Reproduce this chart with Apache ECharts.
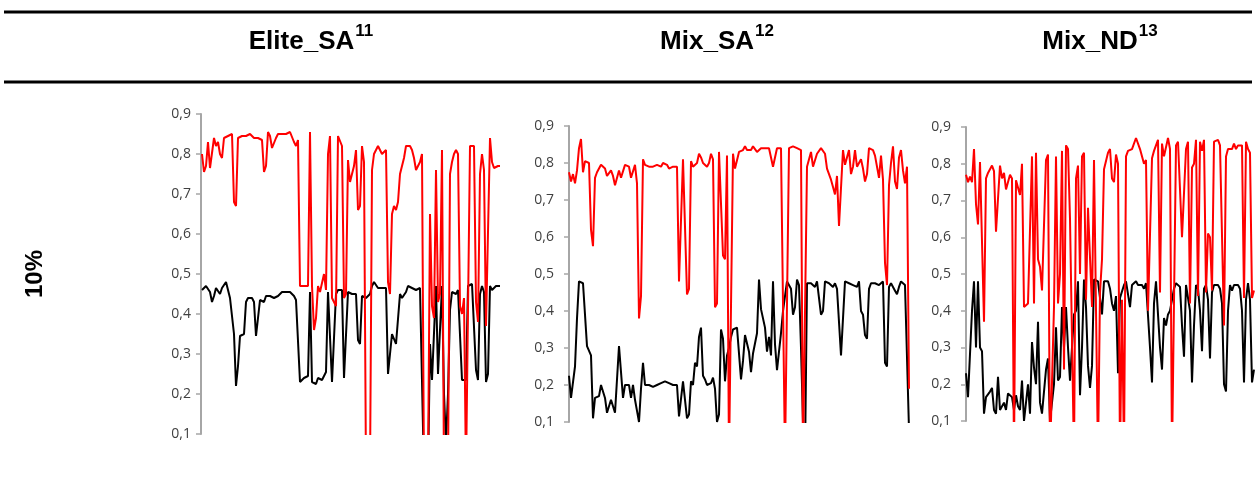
<!DOCTYPE html>
<html>
<head>
<meta charset="utf-8">
<script src="https://cdn.jsdelivr.net/npm/echarts@6/dist/echarts.min.js"></script>
<style>
html,body{margin:0;padding:0;background:#fff;}
#c{width:1255px;height:477px;}
</style>
</head>
<body>
<div id="c"></div>
<script>
// ---- data ----
const panelTitles = ['Elite_SA', 'Mix_SA', 'Mix_ND'];
const panelSup = ['11', '12', '13'];
const rowLabel = '10%';
const yTicks = [0.1, 0.9, 0.1]; // min, max, interval

const eliteRed = [0.80,0.755,0.77,0.83,0.765,0.76,0.84,0.82,0.83,0.80,
0.79,0.84,0.84,0.845,0.85,0.85,0.68,0.67,0.84,0.845,
0.845,0.84,0.845,0.85,0.85,0.845,0.84,0.84,0.84,0.835,
0.835,0.755,0.77,0.855,0.845,0.815,0.82,0.84,0.85,0.85,
0.85,0.85,0.85,0.855,0.855,0.85,0.83,0.82,0.835,0.47,
0.47,0.47,0.47,0.47,0.855,0.47,0.36,0.39,0.47,0.455,
0.46,0.50,0.46,0.80,0.845,0.44,0.43,0.42,0.845,0.84,
0.82,0.44,0.45,0.785,0.73,0.73,0.77,0.81,0.66,0.67,
0.82,0.78,0,0,0,0.76,0.80,0.81,0.82,0.815,
0.80,0.80,0.81,0.48,0.45,0.65,0.67,0.66,0.68,0.75,
0.755,0.79,0.82,0.825,0.82,0.81,0.79,0.76,0.76,0.78,
0.80,0,0,0,0.65,0.42,0.39,0.76,0.43,0.45,
0.81,0,0,0,0.75,0.78,0.80,0.81,0.80,0.42,
0.40,0.44,0,0,0.82,0.825,0.82,0.43,0.38,0.75,
0.80,0.76,0.37,0.37,0.84,0.78,0.765,0.77,0.77,0.77];

const eliteBlack = [0.46,0.465,0.47,0.475,0.455,0.43,0.445,0.465,0.46,0.45,
0.465,0.47,0.48,0.46,0.44,0.445,0.35,0.22,0.27,0.345,
0.345,0.35,0.43,0.44,0.44,0.44,0.43,0.345,0.34,0.435,
0.435,0.43,0.445,0.45,0.445,0.45,0.44,0.435,0.445,0.45,
0.455,0.455,0.455,0.45,0.455,0.46,0.445,0.435,0.43,0.23,
0.235,0.24,0.245,0.245,0.455,0.23,0.225,0.225,0.24,0.235,
0.235,0.245,0.255,0.455,0.46,0.23,0.225,0.45,0.46,0.46,
0.46,0.24,0.24,0.455,0.455,0.45,0.45,0.45,0.335,0.325,
0.445,0.445,0.44,0.44,0.45,0.47,0.48,0.475,0.465,0.46,
0.465,0.47,0.465,0.25,0.255,0.35,0.345,0.325,0.32,0.45,
0.44,0.445,0.455,0.47,0.47,0.465,0.46,0.46,0.465,0.465,
0.47,0,0,0,0.325,0.235,0.235,0.47,0.25,0.25,
0.47,0.20,0.08,0.20,0.41,0.455,0.455,0.45,0.46,0.455,
0.235,0.235,0.235,0.47,0.475,0.475,0.475,0.26,0.235,0.45,
0.47,0.455,0.23,0.25,0.47,0.46,0.46,0.47,0.47,0.47];

const mixSaRed = [0.775,0.75,0.77,0.745,0.78,0.84,0.865,0.775,0.805,0.80,
0.80,0.62,0.575,0.76,0.775,0.78,0.795,0.80,0.785,0.765,
0.77,0.78,0.765,0.74,0.735,0.78,0.76,0.755,0.795,0.795,
0.79,0.76,0.76,0.795,0.745,0.38,0.44,0.81,0.795,0.79,
0.79,0.79,0.79,0.795,0.795,0.79,0.79,0.80,0.805,0.795,
0.785,0.79,0.79,0.79,0.79,0.48,0.48,0.81,0.81,0.445,
0.46,0.805,0.79,0.785,0.80,0.825,0.815,0.80,0.795,0.79,
0.80,0.825,0.81,0.41,0.42,0.83,0.83,0.55,0.54,0.82,
0,0,0.825,0.785,0.79,0.83,0.83,0.835,0.845,0.835,
0.84,0.835,0.845,0.84,0.83,0.835,0.84,0.84,0.84,0.835,
0.84,0.84,0.79,0.79,0.84,0.835,0.84,0.84,0,0,
0.84,0.845,0.845,0.845,0.84,0.835,0.835,0,0,0.79,
0.785,0.83,0.79,0.79,0.825,0.825,0.84,0.835,0.825,0.785,
0.79,0.755,0.735,0.715,0.765,0.63,0.625,0.835,0.795,0.80,
0.835,0.77,0.79,0.835,0.79,0.79,0.81,0.785,0.75,0.77,
0.84,0.84,0.835,0.82,0.82,0.76,0.82,0.755,0.53,0.47,
0.74,0.80,0.845,0.75,0.73,0.815,0.835,0.78,0.745,0.79,
0.19];

const mixSaBlack = [0.225,0.165,0.16,0.25,0.38,0.48,0.48,0.475,0.475,0.305,
0.30,0.28,0.11,0.165,0.165,0.17,0.20,0.205,0.165,0.125,
0.125,0.16,0.16,0.125,0.125,0.305,0.305,0.165,0.20,0.20,
0.20,0.165,0.20,0.16,0.13,0.10,0.19,0.26,0.20,0.20,
0.20,0.20,0.195,0.20,0.20,0.20,0.205,0.20,0.21,0.205,
0.205,0.20,0.20,0.20,0.20,0.115,0.115,0.21,0.21,0.11,
0.12,0.21,0.20,0.26,0.25,0.33,0.355,0.225,0.215,0.20,
0.20,0.205,0.22,0.19,0.10,0.12,0.35,0.325,0.21,0.28,
0.30,0.33,0.35,0.355,0.355,0.355,0.215,0.265,0.335,0.33,
0.29,0.235,0.285,0.285,0.34,0.485,0.405,0.40,0.355,0.29,
0.33,0.28,0.48,0.31,0.24,0.29,0.34,0.40,0.44,0.48,
0.475,0.46,0.39,0.41,0.485,0.47,0.30,0.10,0,0.475,
0.48,0.475,0.475,0.465,0.48,0.48,0.39,0.40,0.48,0.475,
0.475,0.475,0.465,0.475,0.46,0.455,0.28,0.285,0.48,0.475,
0.475,0.48,0.47,0.475,0.465,0.48,0.40,0.39,0.335,0.325,
0.46,0.475,0.475,0.475,0.475,0.47,0.465,0.48,0.26,0.25,
0.465,0.475,0.47,0.455,0.445,0.465,0.48,0.475,0.47,0.47,
0.08];

const mixNdRed = [0.77,0.75,0.765,0.75,0.84,0.69,0.635,0.805,0.80,0.37,
0.76,0.775,0.785,0.795,0.78,0.615,0.62,0.795,0.76,0.775,
0.73,0.725,0.77,0.76,0,0.755,0.76,0.715,0.80,0.41,
0.41,0.42,0.42,0.82,0.42,0.83,0.54,0.52,0.455,0.455,
0.81,0.825,0,0,0.41,0.82,0.42,0.50,0.835,0.24,
0.85,0.84,0.65,0.645,0,0.76,0.795,0.50,0.82,0.83,
0.43,0.68,0.68,0.41,0.81,0.81,0,0.45,0.54,0.785,
0.78,0.83,0.84,0.76,0.75,0.825,0.80,0,0.43,0,
0.82,0.835,0.835,0.84,0.835,0.87,0.865,0.84,0.845,0.80,
0.81,0.40,0.40,0.815,0.835,0.84,0.865,0.45,0.855,0.82,
0.815,0.87,0.84,0,0,0.85,0.86,0.86,0.60,0.595,
0.84,0.86,0.42,0.79,0.80,0.865,0.44,0.86,0.835,0.865,
0.45,0.61,0.60,0.455,0.86,0.86,0.865,0.85,0.85,0.36,
0.82,0.84,0.845,0.84,0.855,0.84,0.85,0.85,0.85,0.435,
0.86,0.84,0.83,0.435,0.455];

const mixNdBlack = [0.23,0.165,0.16,0.40,0.48,0.30,0.48,0.30,0.29,0.12,
0.165,0.165,0.18,0.19,0.13,0.12,0.22,0.13,0.125,0.15,
0.13,0.175,0.17,0.165,0.13,0.17,0.14,0.13,0.21,0.10,
0.10,0.20,0.12,0.315,0.245,0.20,0.37,0.15,0.12,0.12,
0.24,0.27,0.10,0.10,0.20,0.355,0.21,0.22,0.41,0.30,
0.41,0.30,0.21,0.30,0.39,0.40,0.48,0.17,0.30,0.485,
0.41,0.25,0.19,0.25,0.485,0.485,0.48,0.48,0.39,0.48,
0.475,0.48,0.46,0.42,0.40,0.44,0.23,0.435,0.44,0.47,
0.48,0.48,0.41,0.47,0.475,0.48,0.47,0.475,0.47,0.46,
0.475,0.48,0.30,0.205,0.42,0.48,0.475,0.30,0.24,0.38,
0.36,0.39,0.40,0.43,0.46,0.475,0.47,0.465,0.36,0.275,
0.47,0.465,0.40,0.205,0.36,0.47,0.46,0.40,0.29,0.46,
0.47,0.43,0.27,0.45,0.47,0.47,0.47,0.46,0.42,0.20,
0.18,0.40,0.47,0.455,0.47,0.47,0.47,0.46,0.40,0.205,
0.43,0.475,0.43,0.205,0.24];

// ---- layout ----
const panels = [
  {red: eliteRed, black: eliteBlack, left: 201, top: 114, width: 300, height: 320, gap: true, center: 311, margin: 10},
  {red: mixSaRed, black: mixSaBlack, left: 569, top: 126, width: 340, height: 296, gap: false, center: 717, margin: 15},
  {red: mixNdRed, black: mixNdBlack, left: 966, top: 127, width: 288, height: 294, gap: false, center: 1100, margin: 15}
];

const FONT = '"Liberation Sans", Arial, sans-serif';
const mainFont = 'bold 26px ' + FONT;
const supFont = 'bold 17px ' + FONT;
const ctx = document.createElement('canvas').getContext('2d');
function tw(t, f) { ctx.font = f; return ctx.measureText(t).width; }

const grids = [], xAxes = [], yAxes = [], series = [], graphics = [];
panels.forEach((p, i) => {
  grids.push({left: p.left, top: p.top, width: p.width, height: p.height, containLabel: false});
  xAxes.push({type: 'category', gridIndex: i, data: p.red.map((_, k) => k + 1), boundaryGap: p.gap, show: false});
  yAxes.push({
    type: 'value', gridIndex: i, min: yTicks[0], max: yTicks[1], interval: yTicks[2],
    axisLine: {show: true, lineStyle: {color: '#a6a6a6', width: 2}},
    axisTick: {show: true, length: 5, lineStyle: {color: '#a6a6a6', width: 1.5}},
    splitLine: {show: false},
    axisLabel: {margin: p.margin, color: '#404040', fontSize: 14, fontFamily: '"Open Sans", sans-serif',
      formatter: v => v.toFixed(1).replace('.', ',')}
  });
  series.push({type: 'line', xAxisIndex: i, yAxisIndex: i, data: p.black, showSymbol: false, symbol: 'none',
    lineStyle: {color: '#000000', width: 2}, clip: true, z: 2});
  series.push({type: 'line', xAxisIndex: i, yAxisIndex: i, data: p.red, showSymbol: false, symbol: 'none',
    lineStyle: {color: '#ff0000', width: 2}, clip: true, z: 3});

  const w1 = tw(panelTitles[i], mainFont), w2 = tw(panelSup[i], supFont);
  const x0 = p.center - (w1 + w2 + 1) / 2;
  graphics.push({type: 'text', x: x0, y: 42, style: {text: panelTitles[i], font: mainFont, fill: '#000', align: 'left', verticalAlign: 'middle'}});
  graphics.push({type: 'text', x: x0 + w1 + 1, y: 31, style: {text: panelSup[i], font: supFont, fill: '#000', align: 'left', verticalAlign: 'middle'}});
});

graphics.push({type: 'line', shape: {x1: 4, y1: 12, x2: 1252, y2: 12}, style: {stroke: '#000', lineWidth: 3}});
graphics.push({type: 'line', shape: {x1: 4, y1: 82, x2: 1252, y2: 82}, style: {stroke: '#000', lineWidth: 3}});
graphics.push({type: 'text', x: 35, y: 274, rotation: Math.PI / 2,
  style: {text: rowLabel, font: 'bold 24px ' + FONT, fill: '#000', align: 'center', verticalAlign: 'middle'}});

const chart = echarts.init(document.getElementById('c'), null, {renderer: 'canvas'});
chart.setOption({
  animation: false,
  grid: grids, xAxis: xAxes, yAxis: yAxes, series: series,
  graphic: graphics
});
</script>
</body>
</html>
